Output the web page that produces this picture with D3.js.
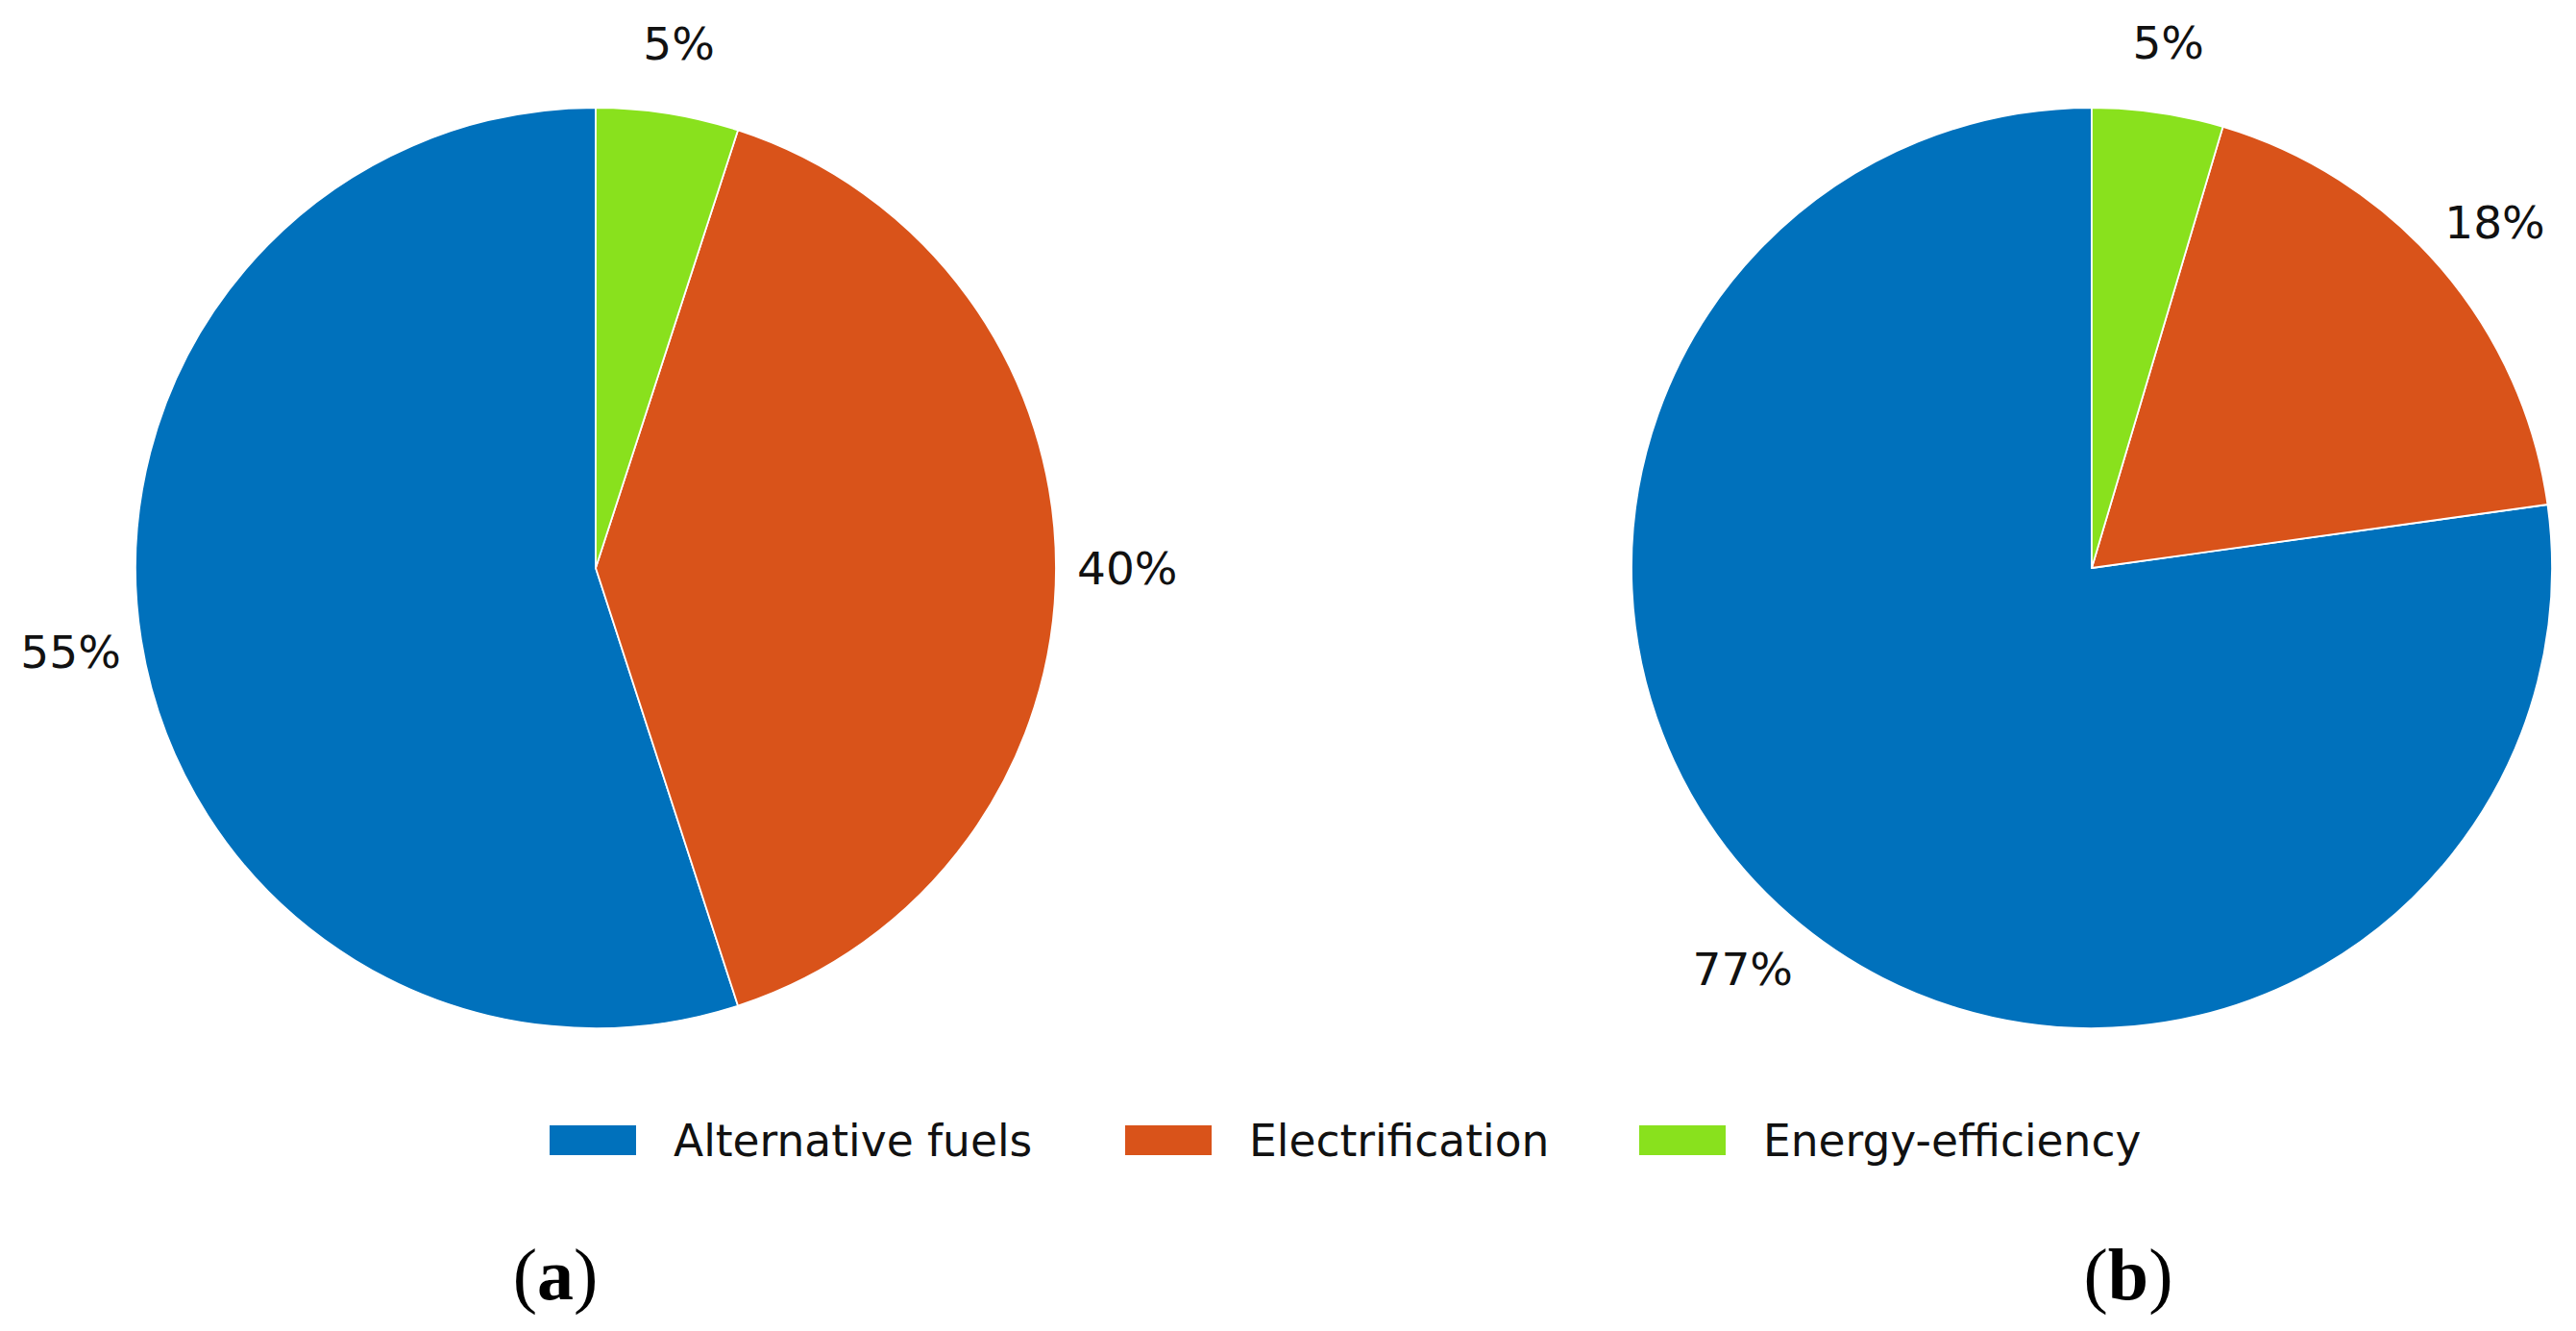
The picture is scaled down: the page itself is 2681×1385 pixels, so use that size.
<!DOCTYPE html>
<html>
<head>
<meta charset="utf-8">
<script src="https://cdn.jsdelivr.net/npm/d3@7"></script>
<style>
  html, body { margin: 0; padding: 0; background: #ffffff; }
  svg { display: block; }
</style>
</head>
<body>
<svg id="chart" width="2681" height="1385"></svg>
<script>
// ---- Data ----
const categories = ["Alternative fuels", "Electrification", "Energy-efficiency"];
const valuesA = [55, 40, 5];
const valuesB = [77.2, 18.2, 4.6];
const labelsA = ["55%", "40%", "5%"];
const labelsB = ["77%", "18%", "5%"];
const panelLabels = ["(a)", "(b)"];
const colors = ["#0071BC", "#D9531A", "#89E11D"];

// ---- Layout ----
const svg = d3.select("#chart");
const W = 2681, H = 1385;
const R = 479;
const pctDist = 1.155;
const centers = [[620, 591], [2177, 591]];
const color = d3.scaleOrdinal().domain(categories).range(colors);

// matplotlib-style: start at top, go counter-clockwise
const pie = d3.pie().sort(null).startAngle(0).endAngle(-2 * Math.PI).value(d => d.v);
const arc = d3.arc().innerRadius(0).outerRadius(R);
const labelArc = d3.arc().innerRadius(R * pctDist).outerRadius(R * pctDist);

function drawPie(values, labels, c) {
  const data = categories.map((k, i) => ({ k, v: values[i], label: labels[i] }));
  const g = svg.append("g").attr("transform", `translate(${c[0]},${c[1]})`);
  const arcs = pie(data);
  g.selectAll("path.slice").data(arcs).enter().append("path")
    .attr("class", "slice")
    .attr("d", arc)
    .attr("fill", d => color(d.data.k))
    .attr("stroke", "#ffffff")
    .attr("stroke-width", 1.8)
    .attr("stroke-linejoin", "round");
  const fs = 47;
  g.selectAll("text.pct").data(arcs).enter().append("text")
    .attr("class", "pct")
    .attr("x", d => labelArc.centroid(d)[0])
    .attr("y", d => labelArc.centroid(d)[1] + fs * 0.3645)
    .attr("text-anchor", "middle")
    .attr("font-family", "'DejaVu Sans', sans-serif")
    .attr("font-size", fs)
    .attr("fill", "#111111")
    .text(d => d.data.label);
}

drawPie(valuesA, labelsA, centers[0]);
drawPie(valuesB, labelsB, centers[1]);

// ---- Legend ----
const legendFs = 45.5;
const legendX = [572, 1171, 1706];
const legendY = 1171;
const lg = svg.append("g").attr("class", "legend");
categories.forEach((k, i) => {
  lg.append("rect")
    .attr("x", legendX[i]).attr("y", legendY)
    .attr("width", 90).attr("height", 31)
    .attr("fill", color(k));
  lg.append("text")
    .attr("x", legendX[i] + 129)
    .attr("y", legendY + 15.5 + legendFs * 0.3645)
    .attr("font-family", "'DejaVu Sans', sans-serif")
    .attr("font-size", legendFs)
    .attr("fill", "#111111")
    .text(k);
});

// ---- Panel labels ----
const panelX = [578, 2215];
svg.selectAll("text.panel").data(panelLabels).enter().append("text")
  .attr("class", "panel")
  .attr("x", (d, i) => panelX[i])
  .attr("y", 1352)
  .attr("text-anchor", "middle")
  .attr("font-family", "'Liberation Serif', 'Times New Roman', serif")
  .attr("font-size", 76)
  .attr("fill", "#000000")
  .each(function(d) {
    const t = d3.select(this);
    t.append("tspan").attr("font-weight", "normal").text("(");
    t.append("tspan").attr("font-weight", "bold").text(d.slice(1, 2));
    t.append("tspan").attr("font-weight", "normal").text(")");
  });
</script>
</body>
</html>
